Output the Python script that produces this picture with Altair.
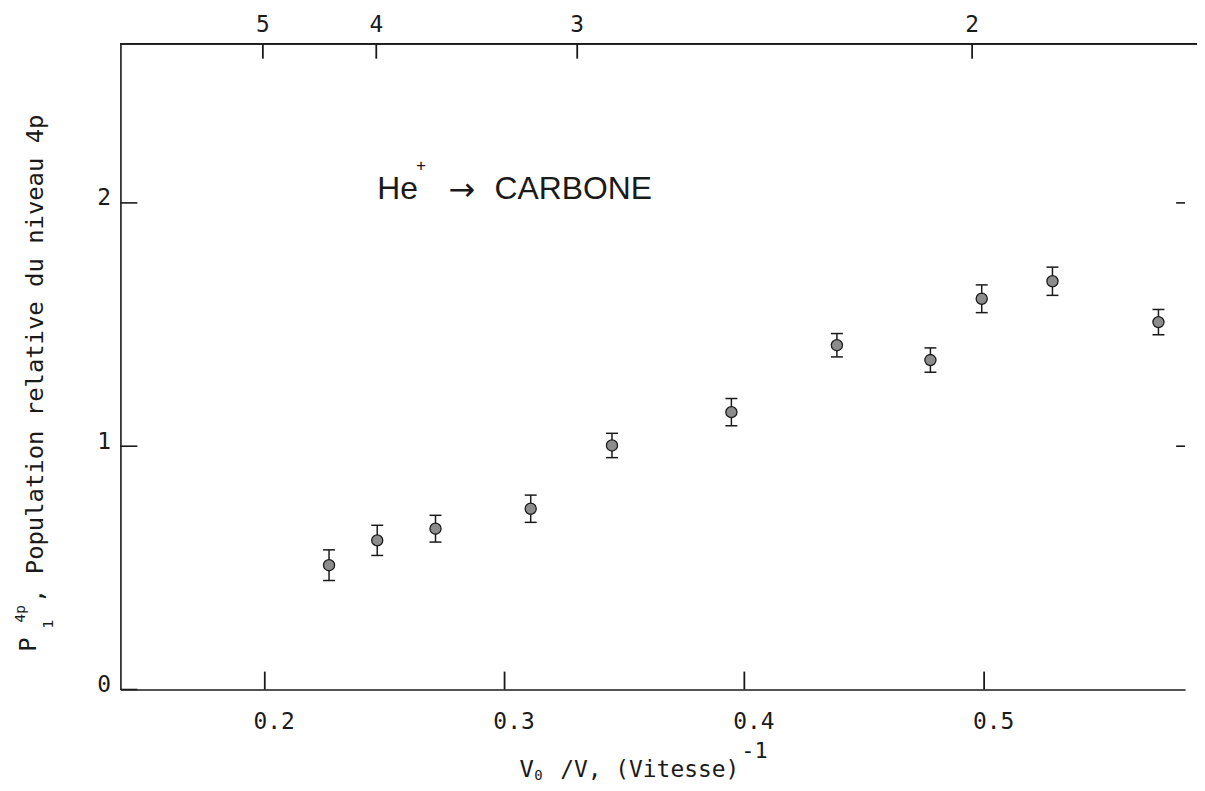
import altair as alt
import pandas as pd

# ---- data ----
x_vals = [0.2268, 0.2469, 0.2712, 0.3109, 0.3448, 0.3946, 0.4386, 0.4776, 0.4990, 0.5285, 0.5727]
y_vals = [0.511, 0.613, 0.661, 0.743, 1.003, 1.140, 1.415, 1.354, 1.606, 1.678, 1.510]
y_err = [0.063, 0.062, 0.055, 0.056, 0.050, 0.056, 0.048, 0.050, 0.057, 0.058, 0.052]

x_ticks = [0.2, 0.3, 0.4, 0.5]
y_ticks = [0, 1, 2]
right_ticks = [1, 2]
top_tick_pos = [0.1992, 0.2465, 0.3303, 0.4950]
top_tick_labels = ["5", "4", "3", "2"]

X_DOMAIN = [0.1398, 0.5838]
Y_DOMAIN = [0, 2.654]
W, H = 1070, 649
INK = "#1a1a1a"
MONO = "DejaVu Sans Mono"
SANS = "Liberation Sans"

pts = pd.DataFrame({
    "x": x_vals,
    "y": y_vals,
    "lo": [v - e for v, e in zip(y_vals, y_err)],
    "hi": [v + e for v, e in zip(y_vals, y_err)],
})

xs = alt.Scale(domain=X_DOMAIN, nice=False, zero=False)
ys = alt.Scale(domain=Y_DOMAIN, nice=False, zero=False)
x_axis = alt.Axis(values=x_ticks, format=".1f", ticks=False, tickSize=0, grid=False,
                  labelFont=MONO, labelFontSize=23, labelPadding=21, labelOffset=9,
                  labelColor=INK, domainColor=INK, domainWidth=1.6, title=None)
y_axis = alt.Axis(values=y_ticks, format="d", ticks=False, tickSize=0, grid=False,
                  labelFont=MONO, labelFontSize=23, labelPadding=10, labelOffset=-5,
                  labelColor=INK, domainColor=INK, domainWidth=1.6, title=None)


def X(field="x"):
    return alt.X(f"{field}:Q", scale=xs, axis=x_axis)


def Y(field="y"):
    return alt.Y(f"{field}:Q", scale=ys, axis=y_axis)


base = alt.Chart(pts)

err = base.mark_rule(color=INK, strokeWidth=1.5).encode(x=X(), y=Y("lo"), y2="hi:Q")
cap_lo = base.mark_rule(color=INK, strokeWidth=1.5, xOffset=-6, x2Offset=6).encode(
    x=X(), x2="x:Q", y=Y("lo"))
cap_hi = base.mark_rule(color=INK, strokeWidth=1.5, xOffset=-6, x2Offset=6).encode(
    x=X(), x2="x:Q", y=Y("hi"))
dots = base.mark_point(shape="circle", size=125, fill="#8c8c8c", fillOpacity=1,
                       stroke=INK, strokeWidth=1.3, opacity=1).encode(x=X(), y=Y())

# inward ticks
bt = alt.Chart(pd.DataFrame({"x": x_ticks})).mark_rule(color=INK, strokeWidth=1.8).encode(
    x=X(), y=alt.value(H), y2=alt.value(H - 18))
lt = alt.Chart(pd.DataFrame({"y": y_ticks})).mark_rule(color=INK, strokeWidth=1.6).encode(
    y=Y(), x=alt.value(0), x2=alt.value(17))
rt = alt.Chart(pd.DataFrame({"y": right_ticks})).mark_rule(color=INK, strokeWidth=1.6).encode(
    y=Y(), x=alt.value(W - 9), x2=alt.value(W))
top_df = pd.DataFrame({"x": top_tick_pos, "label": top_tick_labels})
tt = alt.Chart(top_df).mark_rule(color=INK, strokeWidth=1.8).encode(
    x=X(), y=alt.value(0), y2=alt.value(15))
tl = alt.Chart(top_df).mark_text(font=MONO, fontSize=23, color=INK, baseline="alphabetic").encode(
    x=X(), y=alt.value(-12), text="label:N")
top_line = alt.Chart(top_df).mark_rule(color=INK, strokeWidth=1.6).encode(
    x=alt.value(0), x2=alt.value(W + 12), y=alt.value(0))

# annotation "He+ -> CARBONE" (placed in data coordinates)
ann = pd.DataFrame({
    "x": [0.2469, 0.2652, 0.2822, 0.2958],
    "y": [2.016, 2.150, 2.053, 2.016],
    "t": ["He", "+", "\u2192", "CARBONE"],
})
a_he = alt.Chart(ann.iloc[[0]]).mark_text(font=SANS, fontSize=32, color=INK, align="left",
                                          baseline="alphabetic").encode(x=X(), y=Y(), text="t:N")
a_plus = alt.Chart(ann.iloc[[1]]).mark_text(font=MONO, fontSize=16, color=INK, align="center",
                                            baseline="middle").encode(x=X(), y=Y(), text="t:N")
a_arr = alt.Chart(ann.iloc[[2]]).mark_text(font="DejaVu Sans", fontSize=32, color=INK, align="center",
                                           baseline="middle").encode(x=X(), y=Y(), text="t:N")
a_car = alt.Chart(ann.iloc[[3]]).mark_text(font=SANS, fontSize=32, color=INK, align="left",
                                           baseline="alphabetic").encode(x=X(), y=Y(), text="t:N")

# axis titles as text pieces
one = pd.DataFrame({"k": [0]})


def txt(text, x, y, size, angle=0, align="left", baseline="alphabetic"):
    kw = dict(font=MONO, fontSize=size, color=INK, align=align, baseline=baseline, text=text)
    if angle:
        kw["angle"] = angle
    return alt.Chart(one).mark_text(**kw).encode(x=alt.value(x), y=alt.value(y))


yt_P = txt("P", -85, 611, 24, angle=270)
yt_sup = txt("4p", -96, 582, 15, angle=270)
yt_sub = txt("1", -68, 588, 15, angle=270)
yt_main = txt(", Population relative du niveau 4p", -78, 562, 24, angle=270)

xt_V = txt("V", 401, 737, 24)
xt_0 = txt("0", 416, 740, 14)
xt_main = txt("/V, (Vitesse)", 442, 737, 23)
xt_exp = txt("-1", 624, 718, 22)

chart = alt.layer(
    err, cap_lo, cap_hi, dots, bt, lt, rt, tt, tl, top_line,
    a_he, a_plus, a_arr, a_car,
    yt_P, yt_sup, yt_sub, yt_main, xt_V, xt_0, xt_main, xt_exp,
).properties(
    width=W, height=H,
    autosize=alt.AutoSizeParams(type="none"),
    padding={"left": 113, "top": 34, "right": 12, "bottom": 92},
).configure(background="white").configure_view(stroke=None)

chart.save("out.html", embed_options={"renderer": "svg", "actions": False})
